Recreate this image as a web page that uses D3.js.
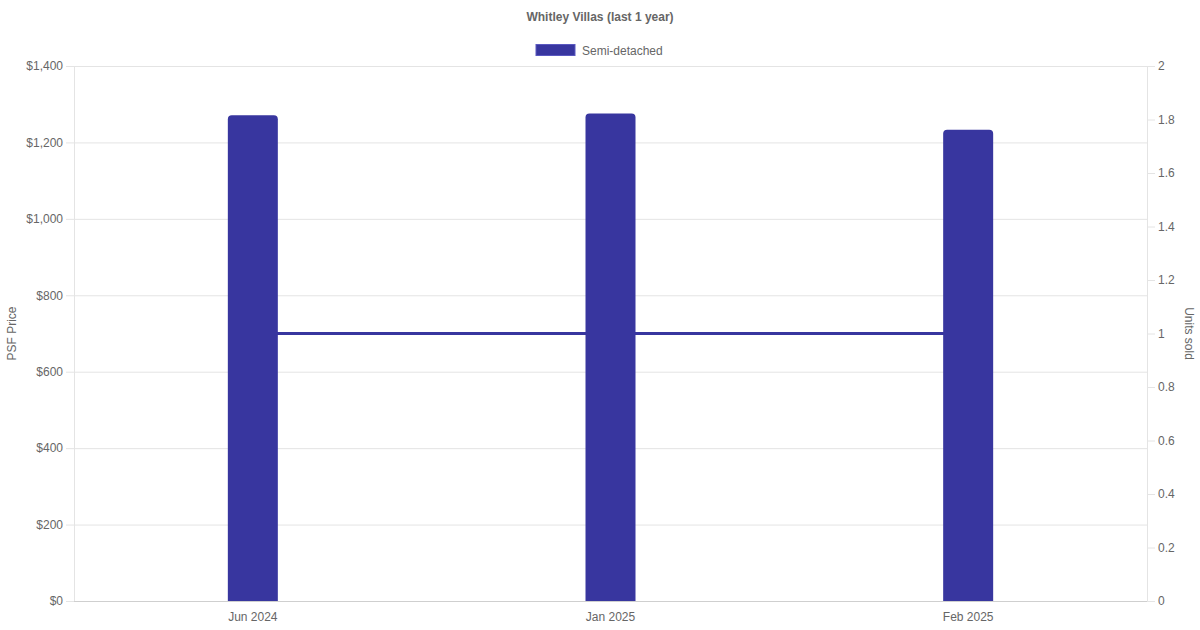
<!DOCTYPE html>
<html>
<head>
<meta charset="utf-8">
<script src="https://cdn.jsdelivr.net/npm/d3@7"></script>
<style>
  body { margin: 0; background: #fff; }
  svg { font-family: "Liberation Sans", Arial, sans-serif; }
</style>
</head>
<body>
<svg id="chart"></svg>
<script>
// chart data
const months = ["Jun 2024", "Jan 2025", "Feb 2025"];
const psfPrice = [1271, 1276, 1233];
const unitsSold = [1, 1, 1];
const priceTicks = [0, 200, 400, 600, 800, 1000, 1200, 1400];
const unitTicks = [0, 0.2, 0.4, 0.6, 0.8, 1, 1.2, 1.4, 1.6, 1.8, 2];

const width = 1200, height = 630;
const margin = {top: 66, right: 53, bottom: 29, left: 74};
const color = "#38369f";
const textColor = "#666";

const svg = d3.select("#chart")
    .attr("width", width)
    .attr("height", height);

const x = d3.scaleBand(months, [margin.left, width - margin.right]).padding(0);
const y = d3.scaleLinear([0, 1400], [height - margin.bottom, margin.top]);
const y2 = d3.scaleLinear([0, 2], [height - margin.bottom, margin.top]);
const barW = 50;

// title
svg.append("text")
    .attr("x", width / 2)
    .attr("y", 21)
    .attr("text-anchor", "middle")
    .attr("fill", textColor)
    .attr("font-size", 12)
    .attr("font-weight", "bold")
    .text("Whitley Villas (last 1 year)");

// legend
svg.append("rect")
    .attr("x", 536).attr("y", 44.5)
    .attr("width", 39).attr("height", 11)
    .attr("fill", color)
    .attr("stroke", "#5a58c0").attr("stroke-width", 1);
svg.append("text")
    .attr("x", 582).attr("y", 55)
    .attr("fill", textColor)
    .attr("font-size", 12)
    .text("Semi-detached");

// left axis + grid
const yAxis = d3.axisLeft(y)
    .tickValues(priceTicks)
    .tickSize(8)
    .tickPadding(3)
    .tickFormat(d => "$" + d3.format(",")(d));
svg.append("g")
    .attr("transform", `translate(${margin.left},0)`)
    .call(yAxis)
    .call(g => g.select(".domain").remove())
    .call(g => g.selectAll(".tick line").attr("stroke", "#e4e4e4").attr("x2", 0).attr("x1", -8))
    .call(g => g.selectAll(".tick").append("line")
        .attr("x2", width - margin.left - margin.right)
        .attr("stroke", "#e4e4e4"))
    .call(g => g.selectAll(".tick text").attr("fill", textColor).attr("font-size", 12)
        .attr("font-family", "Liberation Sans, Arial, sans-serif"));

// left and right borders
svg.append("line")
    .attr("x1", margin.left + 0.5).attr("x2", margin.left + 0.5)
    .attr("y1", margin.top).attr("y2", height - margin.bottom)
    .attr("stroke", "#e4e4e4");
svg.append("line")
    .attr("x1", width - margin.right + 0.5).attr("x2", width - margin.right + 0.5)
    .attr("y1", margin.top).attr("y2", height - margin.bottom)
    .attr("stroke", "#e4e4e4");

// right axis
const y2Axis = d3.axisRight(y2)
    .tickValues(unitTicks)
    .tickSize(8)
    .tickPadding(3)
    .tickFormat(d => d3.format("~g")(d));
svg.append("g")
    .attr("transform", `translate(${width - margin.right},0)`)
    .call(y2Axis)
    .call(g => g.select(".domain").remove())
    .call(g => g.selectAll(".tick line").attr("stroke", "#e4e4e4"))
    .call(g => g.selectAll(".tick text").attr("fill", textColor).attr("font-size", 12)
        .attr("font-family", "Liberation Sans, Arial, sans-serif"));

// units sold line (behind bars)
const line = d3.line()
    .x((d, i) => x(months[i]) + x.bandwidth() / 2)
    .y(d => y2(d));
svg.append("path")
    .datum(unitsSold)
    .attr("d", line)
    .attr("fill", "none")
    .attr("stroke", color)
    .attr("stroke-width", 3);

// bars with rounded top
function barPath(x0, y0, w, yb, r) {
  return `M${x0},${yb}V${y0 + r}Q${x0},${y0} ${x0 + r},${y0}H${x0 + w - r}Q${x0 + w},${y0} ${x0 + w},${y0 + r}V${yb}Z`;
}
svg.append("g")
  .selectAll("path")
  .data(psfPrice)
  .join("path")
    .attr("d", (d, i) => barPath(x(months[i]) + (x.bandwidth() - barW) / 2, y(d), barW, y(0), 4))
    .attr("fill", color);

// x axis
const xAxis = d3.axisBottom(x).tickSize(0).tickPadding(11);
svg.append("g")
    .attr("transform", `translate(0,${height - margin.bottom})`)
    .call(xAxis)
    .call(g => g.select(".domain").attr("stroke", "#cfcfcf").attr("d", `M${margin.left},0.5H${width - margin.right}`))
    .call(g => g.selectAll(".tick text").attr("fill", textColor).attr("font-size", 12)
        .attr("font-family", "Liberation Sans, Arial, sans-serif"));

// axis titles
svg.append("text")
    .attr("transform", `translate(16,${(margin.top + height - margin.bottom) / 2}) rotate(-90)`)
    .attr("text-anchor", "middle")
    .attr("fill", textColor)
    .attr("font-size", 12)
    .text("PSF Price");
svg.append("text")
    .attr("transform", `translate(1185,${(margin.top + height - margin.bottom) / 2}) rotate(90)`)
    .attr("text-anchor", "middle")
    .attr("fill", textColor)
    .attr("font-size", 12)
    .text("Units sold");
</script>
</body>
</html>
